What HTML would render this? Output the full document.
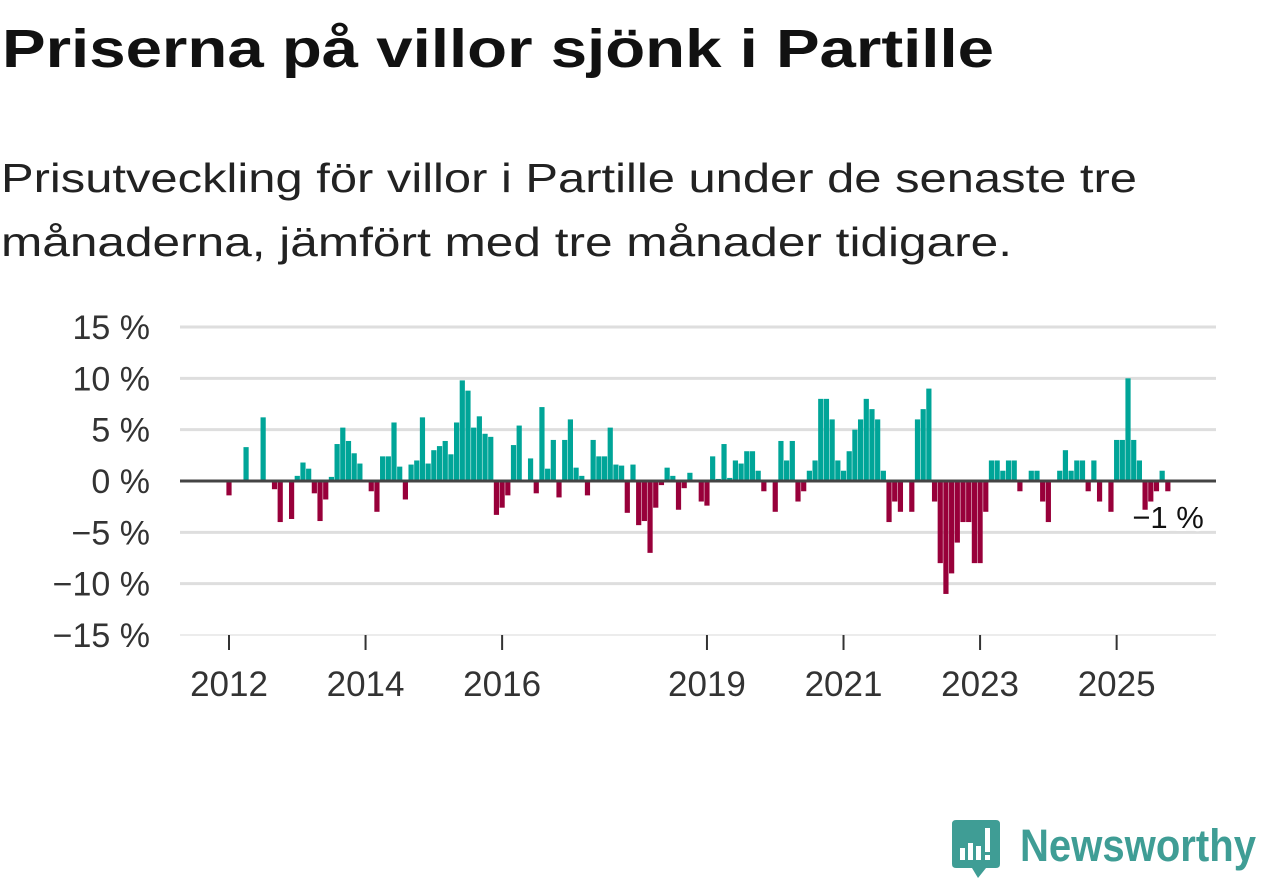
<!DOCTYPE html>
<html><head><meta charset="utf-8"><style>
html,body{margin:0;padding:0;background:#fff;width:1262px;height:879px;overflow:hidden}
svg{display:block;font-family:"Liberation Sans",sans-serif}
</style></head><body>
<svg id="chart" width="1262" height="879" viewBox="0 0 1262 879" xmlns="http://www.w3.org/2000/svg">
<text x="2" y="67" font-size="54" font-weight="bold" fill="#111" textLength="992" lengthAdjust="spacingAndGlyphs">Priserna på villor sjönk i Partille</text>
<text x="1" y="192" font-size="41" fill="#222" textLength="1136" lengthAdjust="spacingAndGlyphs">Prisutveckling för villor i Partille under de senaste tre</text>
<text x="1" y="256" font-size="41" fill="#222" textLength="1011" lengthAdjust="spacingAndGlyphs">månaderna, jämfört med tre månader tidigare.</text>
<g id="grid"></g>
<g id="bars"></g>
<g id="axes"></g>
<g id="annot"></g>
<g>
<path d="M956 820 H996 Q1000 820 1000 824 V864 Q1000 868 996 868 H986 L978 878 L972 868 H956 Q952 868 952 864 V824 Q952 820 956 820 Z" fill="#3f9d95"/>
<rect x="960" y="848" width="5" height="12" fill="#fff"/>
<rect x="968" y="843" width="5" height="17" fill="#fff"/>
<rect x="976" y="846" width="5" height="14" fill="#fff"/>
<rect x="985" y="828" width="5" height="24" fill="#fff"/>
<rect x="985" y="855" width="5" height="5" fill="#fff"/>
<text x="1020" y="861" font-size="45" font-weight="bold" fill="#3f9d95" textLength="236" lengthAdjust="spacingAndGlyphs">Newsworthy</text>
</g>
</svg>
<script>
const values = [-1.4,0,0,3.3,0,0,6.2,0,-0.8,-4.0,0,-3.7,0.5,1.8,1.2,-1.2,-3.9,-1.8,0.4,3.6,5.2,3.9,2.7,1.7,0,-1.0,-3.0,2.4,2.4,5.7,1.4,-1.8,1.6,2.0,6.2,1.7,3.0,3.4,3.9,2.6,5.7,9.8,8.8,5.2,6.3,4.6,4.3,-3.3,-2.6,-1.4,3.5,5.4,0,2.2,-1.2,7.2,1.2,4.0,-1.6,4.0,6.0,1.3,0.5,-1.4,4.0,2.4,2.4,5.2,1.6,1.5,-3.1,1.6,-4.3,-3.9,-7.0,-2.6,-0.4,1.3,0.5,-2.8,-0.7,0.8,0,-2.0,-2.4,2.4,0.2,3.6,0.3,2.0,1.7,2.9,2.9,1.0,-1.0,0,-3.0,3.9,2.0,3.9,-2.0,-1.0,1.0,2.0,8.0,8.0,6.0,2.0,1.0,2.9,5.0,6.0,8.0,7.0,6.0,1.0,-4.0,-2.0,-3.0,0,-3.0,6.0,7.0,9.0,-2.0,-8.0,-11.0,-9.0,-6.0,-4.0,-4.0,-8.0,-8.0,-3.0,2.0,2.0,1.0,2.0,2.0,-1.0,0,1.0,1.0,-2.0,-4.0,0,1.0,3.0,1.0,2.0,2.0,-1.0,2.0,-2.0,0,-3.0,4.0,4.0,10.0,4.0,2.0,-2.8,-2.0,-1.0,1.0,-1.0];
const startYear = 2012;
const yTicks = [15,10,5,0,-5,-10,-15];
const yTickLabels = ["15 %","10 %","5 %","0 %","\u22125 %","\u221210 %","\u221215 %"];
const xTickYears = [2012,2014,2016,2019,2021,2023,2025];
const lastLabel = "\u22121 %";

const NS="http://www.w3.org/2000/svg";
const X0=180,X1=1216;
function yScale(v){return 481 - v*10.267;}
function xScale(monthIndex){return 229 + monthIndex*5.69;}
function mk(tag,attrs,parent){const e=document.createElementNS(NS,tag);for(const k in attrs)e.setAttribute(k,attrs[k]);parent.appendChild(e);return e;}
const grid=document.getElementById('grid'),bars=document.getElementById('bars'),axes=document.getElementById('axes'),annot=document.getElementById('annot');
yTicks.forEach((t,i)=>{
  const y=yScale(t);
  if(t!==0){const l=mk('line',{x1:X0,x2:X1,y1:y,y2:y,stroke:t===-15?'#e6e6e6':'#dedede','stroke-width':t===-15?1.5:3},grid);
  
  }
  const tx=mk('text',{x:150,y:y+12,'font-size':34,fill:'#333','text-anchor':'end'},axes);
  tx.textContent=yTickLabels[i];
  
  
});
values.forEach((v,i)=>{
  if(v===0)return;
  const cx=xScale(i);
  const y0=yScale(0),y1=yScale(v);
  const r=mk('rect',{x:cx-2.6,y:Math.min(y0,y1),width:5.2,height:Math.abs(y1-y0),fill:v>0?'#00a598':'#98003a'},bars);
  
  
});
const zl=mk('line',{x1:X0,x2:X1,y1:yScale(0),y2:yScale(0),stroke:'#444','stroke-width':3},axes);


xTickYears.forEach(yr=>{
  const x=xScale((yr-startYear)*12);
  const tk=mk('line',{x1:x,x2:x,y1:635,y2:650,stroke:'#333','stroke-width':2},axes);
  
  
  const t=mk('text',{x:x,y:696,'font-size':35,fill:'#333','text-anchor':'middle'},axes);
  t.textContent=yr;
  
  
});
const lastX=xScale(values.length-1);
const lbl=mk('text',{x:lastX+36,y:528,'font-size':31,fill:'#111','text-anchor':'end',stroke:'#fff','stroke-width':6,'paint-order':'stroke'},annot);
lbl.textContent=lastLabel;


</script>
</body></html>
